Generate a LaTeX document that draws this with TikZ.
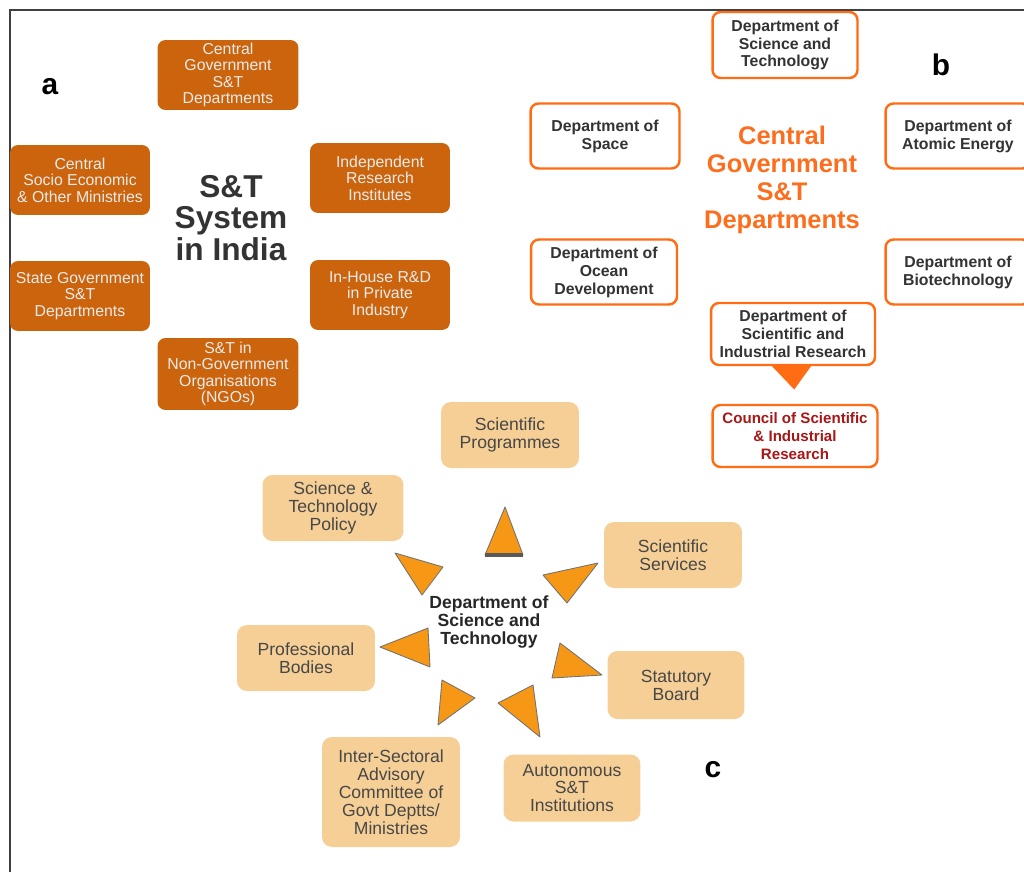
\documentclass[tikz,border=0pt]{standalone}
\usepackage{fontspec}
\setmainfont{Liberation Sans}
\usepackage{tikz}
\usetikzlibrary{calc, positioning}

\definecolor{sysfill}{RGB}{203,100,12}
\definecolor{deptline}{RGB}{255,108,20}
\definecolor{deptorange}{RGB}{252,110,30}
\definecolor{csirred}{RGB}{168,22,22}
\definecolor{dstfill}{RGB}{246,207,150}
\definecolor{trifill}{RGB}{246,152,22}

\tikzset{
    sysbox/.style={fill=sysfill, rounded corners=0.16cm, minimum width=2.8cm, minimum height=1.4cm,
        inner sep=1pt, align=center, text=white!92!black, font=\fontsize{9}{9.4}\selectfont},
    deptbox/.style={draw=deptline, line width=1.4pt, fill=white, rounded corners=0.16cm,
        minimum height=1.3cm, inner sep=1pt, align=center, text=black!80,
        font=\bfseries\fontsize{9}{10.2}\selectfont},
    dstbox/.style={fill=dstfill, rounded corners=0.2cm, minimum width=2.76cm, minimum height=1.32cm,
        inner sep=1pt, align=center, text=black!72, font=\fontsize{10}{10.2}\selectfont},
    panel/.style={font=\bfseries\fontsize{17}{17}\selectfont},
    tri/.style={fill=trifill, draw=black!55, line width=0.5pt, line join=round},
}

\begin{document}
\begin{tikzpicture}[x=0.02cm, y=-0.02cm]
    \useasboundingbox (0,0) rectangle (1024,872);
    \draw[black!75, line width=1.2pt] (10,872) -- (10,10) -- (1024,10);

    % a
    \node[panel] (labela) at (50,87) {a};
    \node[font=\bfseries\fontsize{18}{18}\selectfont, text=black!80, align=center] (sys) at (231,218) {S\&T\\System\\in India};
    \node[sysbox, minimum width=2.82cm] (cgov) at (228,75) {Central\\Government\\S\&T\\Departments};
    \node[sysbox] (csoc) at (80,180) {Central\\Socio Economic\\\& Other Ministries};
    \node[sysbox] (indep) at (380,178) {Independent\\Research\\Institutes};
    \node[sysbox] (state) at (80,296) {State Government\\S\&T\\Departments};
    \node[sysbox] (inhouse) at (380,295) {In-House R\&D\\in Private\\Industry};
    \node[sysbox, minimum width=2.82cm, minimum height=1.44cm] (ngo) at (228,374) {S\&T in\\Non-Government\\Organisations\\(NGOs)};

    % b
    \node[panel] (labelb) at (941,65) {b};
    \node[font=\bfseries\fontsize{14.5}{15.8}\selectfont, text=deptorange, align=center] (cgovb) at (782,180) {Central\\Government\\S\&T\\Departments};
    \node[deptbox, minimum width=2.9cm, minimum height=1.32cm] (dst) at (785,45) {Department of\\Science and\\Technology};
    \node[deptbox, minimum width=2.98cm] (space) at (605,136) {Department of\\Space};
    \node[deptbox, minimum width=2.9cm] (atomic) at (958,136) {Department of\\Atomic Energy};
    \node[deptbox, minimum width=2.92cm] (ocean) at (604,272) {Department of\\Ocean\\Development};
    \node[deptbox, minimum width=2.9cm] (bio) at (958,272) {Department of\\Biotechnology};
    \node[deptbox, minimum width=3.28cm, minimum height=1.24cm] (dsir) at (793,334) {Department of\\Scientific and\\Industrial Research};
    \node[deptbox, minimum width=3.3cm, minimum height=1.24cm, text=csirred, font=\bfseries\fontsize{8.6}{10.2}\selectfont] (csir) at (795,436) {Council of Scientific\\\& Industrial\\Research};
    \fill[deptline] ([xshift=-0.42cm]dsir.south) -- ([xshift=0.36cm]dsir.south) -- ($(dsir.south)!0.62!(csir.north)$) -- cycle;

    % c
    \node[panel] (labelc) at (713,770) {c};
    \node[font=\bfseries\fontsize{10}{10.4}\selectfont, text=black!85, align=center] (dstc) at (489,622) {Department of\\Science and\\Technology};
    \node[dstbox] (prog) at (510,435) {Scientific\\Programmes};
    \node[dstbox, minimum width=2.82cm] (policy) at (333,508) {Science \&\\Technology\\Policy};
    \node[dstbox] (services) at (673,555) {Scientific\\Services};
    \node[dstbox] (prof) at (306,658) {Professional\\Bodies};
    \node[dstbox, minimum width=2.74cm, minimum height=1.36cm] (statb) at (676,685) {Statutory\\Board};
    \node[dstbox, minimum height=2.2cm] (inter) at (391,792) {Inter-Sectoral\\Advisory\\Committee of\\Govt Deptts/\\Ministries};
    \node[dstbox, minimum width=2.74cm, minimum height=1.34cm] (auton) at (572,788) {Autonomous\\S\&T\\Institutions};

    \foreach \ax/\ay/\bx/\by/\cx/\cy in {505/507/485/555/523/555, 395/553/443/567/422/595,
        598/563/543/575/567/603, 380/647/428/628/430/667, 560/643/552/678/602/675,
        442/680/475/698/438/725, 533/685/498/703/540/737}
        \filldraw[tri] (\ax,\ay) -- (\bx,\by) -- (\cx,\cy) -- cycle;
    \draw[black!65, line width=2pt] (485,555) -- (523,555);
\end{tikzpicture}
\end{document}
